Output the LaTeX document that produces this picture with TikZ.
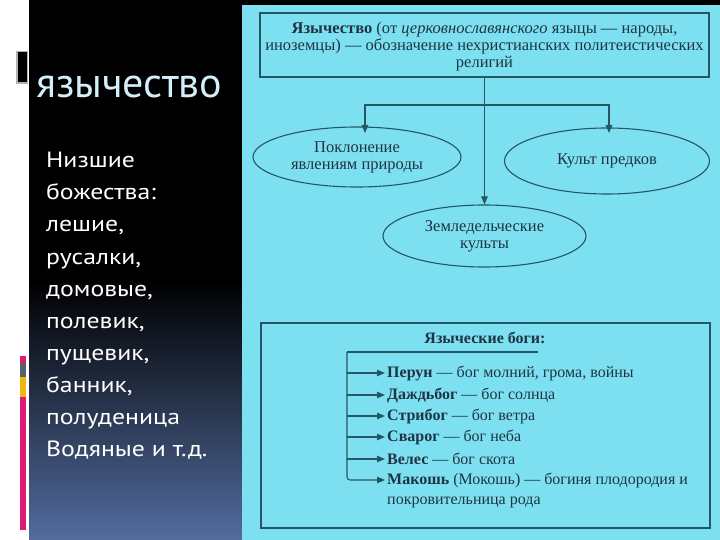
\documentclass[tikz,border=0pt]{standalone}
\usepackage{fontspec}
\setmainfont{Liberation Serif}
\newfontfamily\ptsans{PT Sans}
\newfontfamily\ptwide[FakeStretch=1.17]{PT Sans}
\usetikzlibrary{arrows.meta,shapes.geometric}
\definecolor{cyanbg}{RGB}{125,224,240}
\definecolor{ink}{RGB}{30,52,68}
\definecolor{lineink}{RGB}{38,86,100}
\definecolor{slate}{RGB}{82,108,158}
\definecolor{titlec}{RGB}{212,238,250}
\definecolor{mag}{RGB}{222,28,118}
\definecolor{gry}{RGB}{88,98,108}
\definecolor{yel}{RGB}{240,182,20}
\tikzset{
  serif/.style={font=\fontsize{16.5}{17}\selectfont, text=ink},
  boxframe/.style={draw=lineink, line width=1.1pt, inner sep=0pt},
  oval/.style={ellipse, draw=lineink, line width=1.1pt, inner sep=0pt, align=center, serif},
  conn/.style={draw=lineink, line width=1.1pt},
  arr/.style={conn, -{Triangle[length=8pt,width=6.5pt]}},
  leftline/.style={font=\ptwide\fontsize{22}{24}\selectfont, text=white, anchor=base west, inner sep=0pt},
  god/.style={font=\fontsize{16}{17}\selectfont, text=ink, anchor=west, inner sep=2pt}
}
\begin{document}
\begin{tikzpicture}[x=1pt,y=-1pt]
\useasboundingbox (0,0) rectangle (720,540);
% backgrounds
\fill[white] (0,0) rectangle (29,540);
\fill[black] (29,0) rectangle (720,540);
\shade[top color=black, bottom color=slate] (29,280) rectangle (242,540);
\fill[cyanbg] (242,5) rectangle (720,540);
% left decorations
\fill[gray!60] (16,51) rectangle (28,84);
\fill[black] (17.5,52.5) rectangle (26.5,82.5);
\fill[mag] (20,356) rectangle (26,363);
\fill[gry] (20,363) rectangle (26,377);
\fill[yel] (20,377) rectangle (26,397);
\fill[mag] (20,397) rectangle (26,530);
% left title and list
\node[font=\ptsans\fontsize{42}{44}\selectfont, text=titlec, anchor=base west, inner sep=0pt] (title) at (36,98) {язычество};
\node[leftline] (l1) at (46,168) {Низшие};
\node[leftline] (l2) at (46,200) {божества:};
\node[leftline] (l3) at (46,232) {лешие,};
\node[leftline] (l4) at (46,264) {русалки,};
\node[leftline] (l5) at (46,296) {домовые,};
\node[leftline] (l6) at (46,328) {полевик,};
\node[leftline] (l7) at (46,360) {пущевик,};
\node[leftline] (l8) at (46,392) {банник,};
\node[leftline] (l9) at (46,424) {полуденица};
\node[leftline] (l10) at (46,456) {Водяные и т.д.};
% top definition box
\node[boxframe, minimum width=449pt, minimum height=64pt] (box1) at (484.5,45) {};
\node[serif, align=center, inner sep=0pt] (box1text) at (484.5,46.5)
  {\textbf{Язычество} (от \textit{церковнославянского} языцы — народы,\\
   иноземцы) — обозначение нехристианских политеистических\\
   религий};
% ellipses
\node[oval, minimum width=208pt, minimum height=60pt] (e1) at (357,157) {Поклонение\\явлениям природы};
\node[oval, minimum width=205pt, minimum height=66pt] (e2) at (607,161) {Культ предков};
\node[oval, minimum width=203pt, minimum height=62pt] (e3) at (484.5,236) {Земледельческие\\культы};
\coordinate (j) at (484.5,105);
\coordinate (a1) at (365,133);
\coordinate (a2) at (609,133);
\draw[arr] (box1.south) -- (e3.north);
\draw[arr] (j) -| (a1);
\draw[arr] (j) -| (a2);
% bottom box
\node[boxframe, minimum width=449pt, minimum height=205pt] (box2) at (485.5,425.5) {};
\node[font=\fontsize{16}{17}\selectfont\bfseries, text=ink] (t2) at (485,338) {Языческие боги:};
\coordinate (bus) at (347,352);
\coordinate (busend) at (538,352);
\draw[conn] (bus) -- (busend);
\node[god] (g1) at (385,373) {\textbf{Перун} — бог молний, грома, войны};
\node[god] (g2) at (385,395) {\textbf{Даждьбог} — бог солнца};
\node[god] (g3) at (385,416) {\textbf{Стрибог} — бог ветра};
\node[god] (g4) at (385,437) {\textbf{Сварог} — бог неба};
\node[god] (g5) at (385,459) {\textbf{Велес} — бог скота};
\node[god] (g6) at (385,480) {\textbf{Макошь} (Мокошь) — богиня плодородия и};
\node[god] (g6b) at (385,502) {покровительница рода};
\draw[arr] (bus |- g1.west) -- (g1.west);
\draw[arr] (bus |- g2.west) -- (g2.west);
\draw[arr] (bus |- g3.west) -- (g3.west);
\draw[arr] (bus |- g4.west) -- (g4.west);
\draw[arr] (bus |- g5.west) -- (g5.west);
\draw[arr, rounded corners=3pt] (bus) -- (bus |- g6.west) -- (g6.west);
\end{tikzpicture}
\end{document}
